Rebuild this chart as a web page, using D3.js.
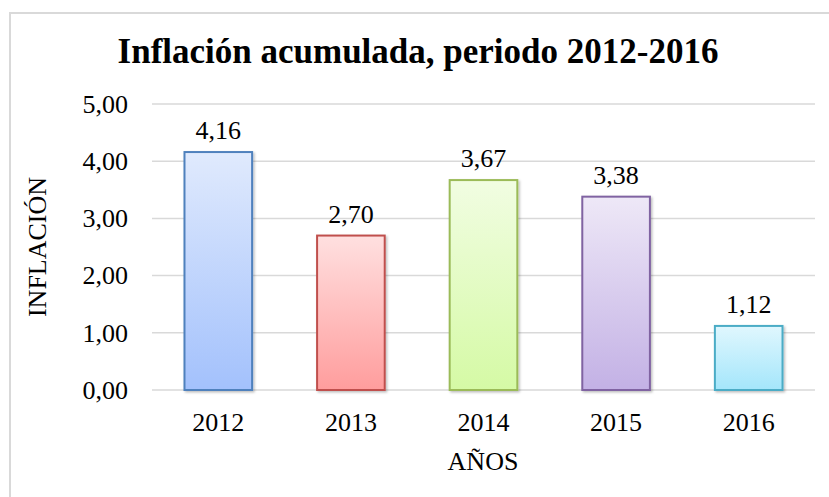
<!doctype html>
<html>
<head>
  <meta charset="utf-8" />
  <title>Inflación acumulada</title>
  <script src="https://cdn.jsdelivr.net/npm/d3@7"></script>
  <style>
  html,body{margin:0;padding:0;background:#fff;}
  svg{display:block;font-family:"Liberation Serif","Times New Roman",serif;}
  </style>
</head>
<body>
<div id="chart"></div>
<script type="text/javascript">
// data
var years = ["2012","2013","2014","2015","2016"];
var inflation = [4.16, 2.70, 3.67, 3.38, 1.12];
var yTicks = [0, 1, 2, 3, 4, 5];
var tops = ["#e0eafd","#ffe0e0","#f1fde2","#eee8f7","#e0f7fe"];
var bottoms = ["#a3c1fc","#ff9d9d","#d5faa5","#c3b1e5","#a4e6fb"];
var borders = ["#4f81bd","#c0504d","#9bbb59","#8064a2","#4bacc6"];

var W = 829, H = 497;
var FS = 26;
var svg = d3.select("#chart").append("svg").attr("width", W).attr("height", H);

// outer frame
svg.append("rect").attr("x", 10).attr("y", 13).attr("width", 830).attr("height", 500)
  .attr("fill", "#fff").attr("stroke", "#d9d9d9").attr("stroke-width", 2);

var defs = svg.append("defs");
years.forEach(function(y, i){
  var g = defs.append("linearGradient").attr("id", "g" + i)
    .attr("x1", 0).attr("y1", 0).attr("x2", 0).attr("y2", 1);
  g.append("stop").attr("offset", "0%").attr("stop-color", tops[i]);
  g.append("stop").attr("offset", "100%").attr("stop-color", bottoms[i]);
});
var f = defs.append("filter").attr("id", "sh").attr("x", "-20%").attr("y", "-20%").attr("width", "140%").attr("height", "140%");
f.append("feDropShadow").attr("dx", 1.5).attr("dy", 1.5).attr("stdDeviation", 1.2)
  .attr("flood-color", "#000").attr("flood-opacity", 0.25);

var x = d3.scaleBand().domain(years).range([152, 815]).paddingInner(0.49).paddingOuter(0.245);
var y = d3.scaleLinear().domain([0, 5]).range([390, 104]);

var fmt = function(v){ return d3.format(".2f")(v).replace(".", ","); };

// gridlines
svg.append("g").selectAll("line").data(yTicks).enter().append("line")
  .attr("x1", 152).attr("x2", 815)
  .attr("y1", function(d){ return y(d); }).attr("y2", function(d){ return y(d); })
  .attr("stroke", "#d9d9d9").attr("stroke-width", 1.5);

// y axis labels
var yAxis = d3.axisLeft(y).tickValues(yTicks).tickFormat(fmt).tickSize(0).tickPadding(0);
var ya = svg.append("g").attr("transform", "translate(128,0)").call(yAxis);
ya.select(".domain").remove();
ya.selectAll("text").attr("font-size", FS).attr("fill", "#000")
  .attr("font-family", "Liberation Serif, Times New Roman, serif");

// x axis labels
var xAxis = d3.axisBottom(x).tickSize(0).tickPadding(0);
var xa = svg.append("g").attr("transform", "translate(0,412.5)").call(xAxis);
xa.select(".domain").remove();
xa.selectAll("text").attr("font-size", FS).attr("fill", "#000")
  .attr("font-family", "Liberation Serif, Times New Roman, serif");

// bars
svg.append("g").selectAll("rect").data(inflation).enter().append("rect")
  .attr("x", function(d, i){ return x(years[i]); })
  .attr("y", function(d){ return y(d); })
  .attr("width", x.bandwidth())
  .attr("height", function(d){ return y(0) - y(d); })
  .attr("fill", function(d, i){ return "url(#g" + i + ")"; })
  .attr("stroke", function(d, i){ return borders[i]; })
  .attr("stroke-width", 2)
  .attr("filter", "url(#sh)");

// value labels
svg.append("g").selectAll("text").data(inflation).enter().append("text")
  .attr("x", function(d, i){ return x(years[i]) + x.bandwidth() / 2; })
  .attr("y", function(d){ return y(d) - 13; })
  .attr("text-anchor", "middle").attr("font-size", FS)
  .text(function(d){ return fmt(d); });

// title
svg.append("text").attr("x", 418).attr("y", 63).attr("text-anchor", "middle")
  .attr("font-size", 35).attr("font-weight", "bold")
  .text("Inflación acumulada, periodo 2012-2016");

// axis titles
svg.append("text").attr("x", 483).attr("y", 470).attr("text-anchor", "middle")
  .attr("font-size", FS).text("AÑOS");
svg.append("text").attr("transform", "translate(46,247) rotate(-90)")
  .attr("text-anchor", "middle").attr("font-size", FS).text("INFLACIÓN");
</script>
</body>
</html>
